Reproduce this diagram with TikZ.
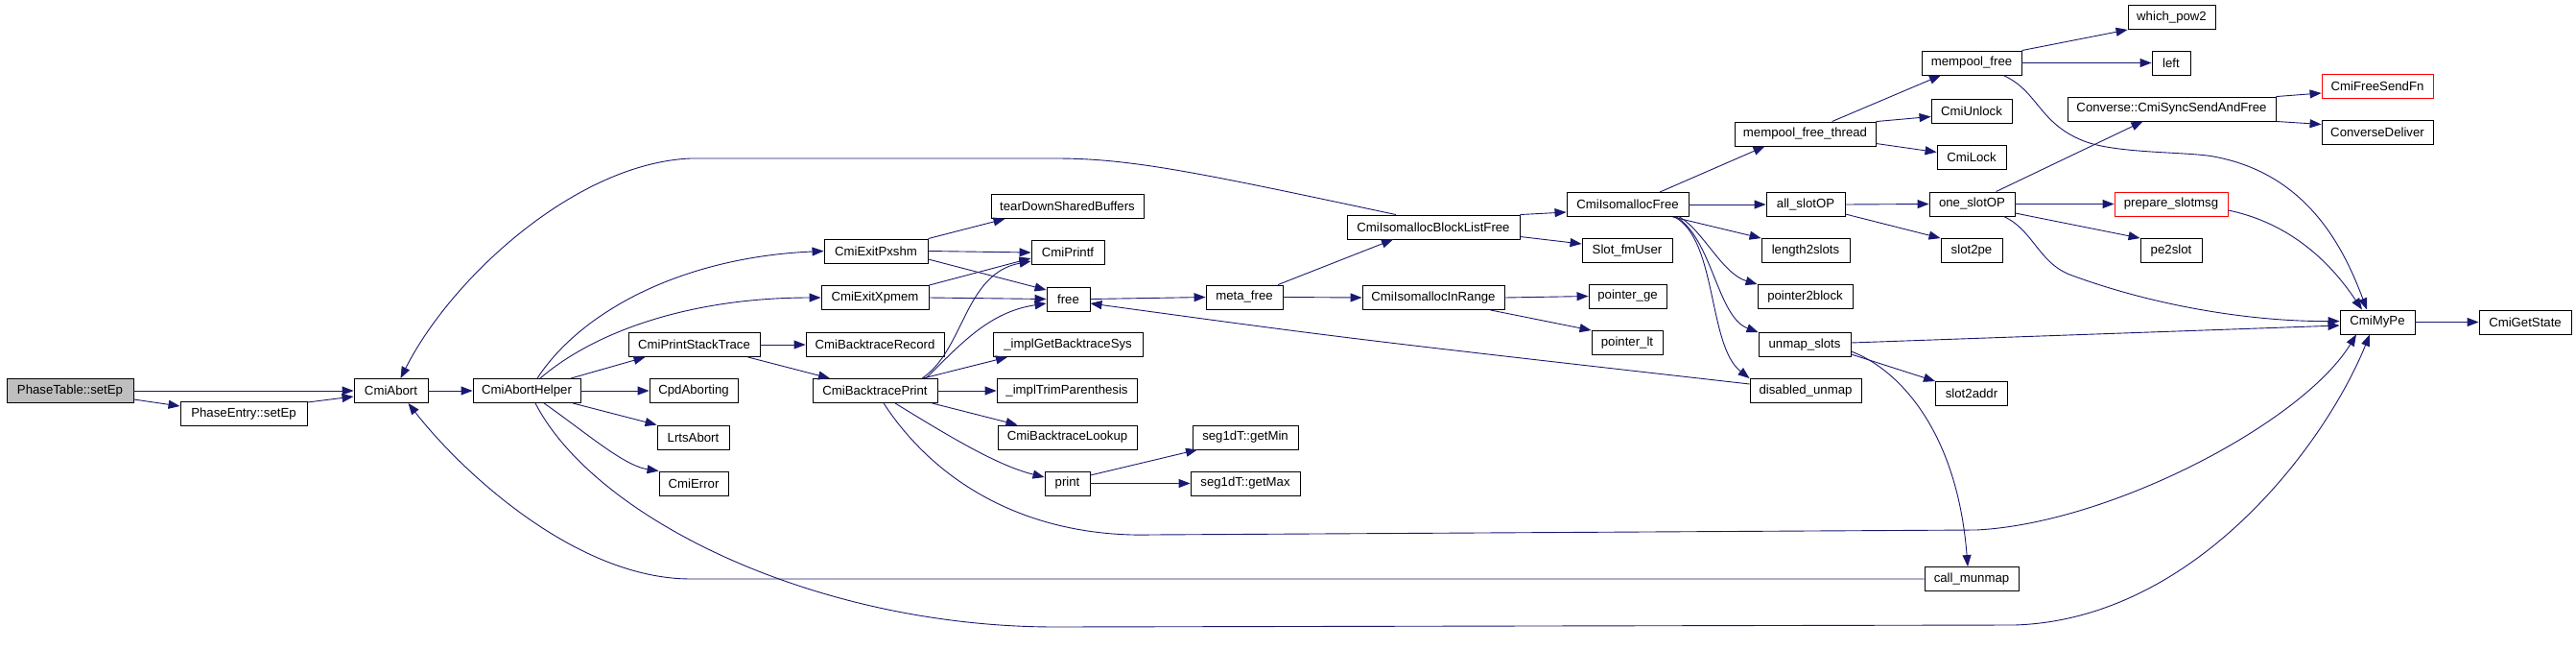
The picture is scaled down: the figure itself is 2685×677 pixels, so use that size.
\documentclass[tikz,border=0pt]{standalone}
\usepackage{fontspec}
\newfontfamily\dfont{Liberation Sans}
\usetikzlibrary{arrows.meta}
\definecolor{edgec}{RGB}{25,25,112}
\definecolor{grayfill}{RGB}{191,191,191}
\begin{document}
\begin{tikzpicture}[x=1pt,y=-1pt,
  nd/.style={draw=black, line width=0.9pt, minimum height=25pt, inner sep=0pt, font=\dfont\fontsize{13.2}{15}\selectfont, anchor=center},
  ndred/.style={nd, draw=red},
  ed/.style={draw=edgec, line width=0.9pt, -{Triangle[length=12pt,width=9pt]}}]
\useasboundingbox (0,0) rectangle (2685,677);
% nodes
\node[nd, fill=grayfill, minimum width=132pt] (pt) at (73,407) {PhaseTable::setEp};
\node[nd, minimum width=132pt] (pe) at (254,431) {PhaseEntry::setEp};
\node[nd, minimum width=77pt] (abort) at (407.5,407) {CmiAbort};
\node[nd, minimum width=112pt] (helper) at (549,407) {CmiAbortHelper};
\node[nd, minimum width=108pt] (pxshm) at (913,261.5) {CmiExitPxshm};
\node[nd, minimum width=112pt] (xpmem) at (912,310) {CmiExitXpmem};
\node[nd, minimum width=137pt] (pst) at (723.5,359) {CmiPrintStackTrace};
\node[nd, minimum width=92pt] (cpd) at (723,407) {CpdAborting};
\node[nd, minimum width=75pt] (lrts) at (722.5,455.5) {LrtsAbort};
\node[nd, minimum width=72pt] (err) at (723,503.5) {CmiError};
\node[nd, minimum width=159pt] (tear) at (1112.5,215) {tearDownSharedBuffers};
\node[nd, minimum width=76pt] (printf) at (1113,263) {CmiPrintf};
\node[nd, minimum width=45pt] (nfree) at (1113.5,311.5) {free};
\node[nd, minimum width=144pt] (btr) at (912,359) {CmiBacktraceRecord};
\node[nd, minimum width=130pt] (bp) at (912,407) {CmiBacktracePrint};
\node[nd, minimum width=156pt] (igbs) at (1113,359) {\_implGetBacktraceSys};
\node[nd, minimum width=146pt] (itp) at (1112,407) {\_implTrimParenthesis};
\node[nd, minimum width=145pt] (bl) at (1112.5,455.5) {CmiBacktraceLookup};
\node[nd, minimum width=47pt] (nprint) at (1112.5,503.5) {print};
\node[nd, minimum width=110pt] (gmin) at (1298,455.5) {seg1dT::getMin};
\node[nd, minimum width=114pt] (gmax) at (1298,503.5) {seg1dT::getMax};
\node[nd, minimum width=80pt] (mf) at (1297,309.5) {meta\_free};
\node[nd, minimum width=180pt] (blf) at (1494,236.5) {CmiIsomallocBlockListFree};
\node[nd, minimum width=148pt] (inr) at (1494,310) {CmiIsomallocInRange};
\node[nd, minimum width=116pt] (du) at (1882,407) {disabled\_unmap};
\node[nd, minimum width=98pt] (cm) at (2055,603) {call\_munmap};
\node[nd, minimum width=127pt] (isofree) at (1696.5,213) {CmiIsomallocFree};
\node[nd, minimum width=94pt] (sfm) at (1696,261) {Slot\_fmUser};
\node[nd, minimum width=81pt] (pge) at (1696.5,308.5) {pointer\_ge};
\node[nd, minimum width=74pt] (plt) at (1696,357) {pointer\_lt};
\node[nd, minimum width=147pt] (mpft) at (1881.5,139.5) {mempool\_free\_thread};
\node[nd, minimum width=82pt] (aso) at (1882,213) {all\_slotOP};
\node[nd, minimum width=92pt] (l2s) at (1882,261) {length2slots};
\node[nd, minimum width=99pt] (p2b) at (1881.5,309) {pointer2block};
\node[nd, minimum width=96pt] (unmap) at (1881,359) {unmap\_slots};
\node[nd, minimum width=104pt] (mpf) at (2055,65.5) {mempool\_free};
\node[nd, minimum width=84pt] (unlock) at (2055,115.5) {CmiUnlock};
\node[nd, minimum width=72pt] (lock) at (2055,163.5) {CmiLock};
\node[nd, minimum width=89pt] (oso) at (2055.5,212.5) {one\_slotOP};
\node[nd, minimum width=64pt] (s2p) at (2055,261) {slot2pe};
\node[nd, minimum width=75pt] (s2a) at (2055,410) {slot2addr};
\node[nd, minimum width=91pt] (wp2) at (2263.5,18) {which\_pow2};
\node[nd, minimum width=40pt] (nleft) at (2263,65.5) {left};
\node[nd, minimum width=217pt] (conv) at (2263.5,113.5) {Converse::CmiSyncSendAndFree};
\node[ndred, minimum width=118pt] (prep) at (2263,212.5) {prepare\_slotmsg};
\node[nd, minimum width=64pt] (pe2s) at (2263,261) {pe2slot};
\node[ndred, minimum width=116pt] (cfsf) at (2478,89.5) {CmiFreeSendFn};
\node[nd, minimum width=116pt] (cd) at (2478,137.5) {ConverseDeliver};
\node[nd, minimum width=78pt] (mype) at (2478,335.5) {CmiMyPe};
\node[nd, minimum width=96pt] (gs) at (2632,335.5) {CmiGetState};
% edges
\draw[ed] (pt.east) -- (abort.west);
\draw[ed] ([yshift=-9pt]pt.east) -- ([yshift=8pt]pe.west);
\draw[ed] ([yshift=12pt]pe.east) -- ([yshift=-6pt]abort.west);
\draw[ed] (abort.east) -- (helper.west);
\draw[ed] ([xshift=11pt]helper.north) .. controls (605,325) and (710,268) .. (pxshm.west);
\draw[ed] ([xshift=14pt]helper.north) .. controls (620,345) and (720,310) .. (xpmem.west);
\draw[ed] ([xshift=46pt]helper.north) -- ([xshift=-51pt]pst.south);
\draw[ed] (helper.east) -- (cpd.west);
\draw[ed] ([xshift=48pt]helper.south) -- (lrts.north west);
\draw[ed] ([xshift=18pt]helper.south) .. controls (610,450) and (650,485) .. (err.north west);
\draw[ed] ([xshift=9pt]helper.south) .. controls (620,540) and (850,653) .. (1100,653) -- (2100,651) .. controls (2290,645) and (2425,460) .. ([xshift=-8pt]mype.south);
\draw[ed] ([xshift=9pt]bp.south) .. controls (980,510) and (1080,560) .. (1200,557) -- (2060,552) .. controls (2200,545) and (2400,440) .. ([xshift=-22pt]mype.south);
\draw[ed] (pxshm.north east) -- ([xshift=-65pt]tear.south);
\draw[ed] (pxshm.east) -- (printf.west);
\draw[ed] ([yshift=-8.5pt]pxshm.east) -- ([yshift=9.5pt]nfree.west);
\draw[ed] (xpmem.north east) -- ([yshift=-6pt]printf.west);
\draw[ed] (xpmem.east) -- (nfree.west);
\draw[ed] (pst.east) -- (btr.west);
\draw[ed] ([xshift=56pt]pst.south) -- ([xshift=-47pt]bp.north);
\draw[ed] ([xshift=49pt]bp.north) .. controls (1005,365) and (1005,285) .. ([yshift=-9pt]printf.west);
\draw[ed] ([xshift=53pt]bp.north) .. controls (1000,360) and (1030,325) .. ([yshift=-4.5pt]nfree.west);
\draw[ed] ([xshift=50pt]bp.north) -- ([xshift=-63pt]igbs.south);
\draw[ed] (bp.east) -- (itp.west);
\draw[ed] ([xshift=-6pt]bp.south east) -- ([xshift=-52pt]bl.north);
\draw[ed] ([xshift=21pt]bp.south) .. controls (990,455) and (1040,485) .. ([yshift=6.5pt]nprint.west);
\draw[ed] ([yshift=8.5pt]nprint.east) -- ([xshift=-50pt]gmin.south);
\draw[ed] (nprint.east) -- (gmax.west);
\draw[ed] (nfree.east) -- (mf.west);
\draw[ed] ([xshift=35pt]mf.north) -- ([xshift=-42pt]blf.south);
\draw[ed] (mf.east) -- (inr.west);
\draw[ed] ([yshift=7pt]du.west) .. controls (1400,352) .. ([yshift=-4.5pt]nfree.east);
\draw[ed] (blf.north east) -- ([yshift=-8pt]isofree.west);
\draw[ed] ([yshift=-10pt]blf.east) -- ([yshift=7pt]sfm.west);
\draw[ed] ([xshift=-39pt]blf.north) .. controls (1250,180) and (1180,165) .. (1100,165) -- (720,165) .. controls (600,170) and (470,290) .. ([xshift=10pt]abort.north);
\draw[ed] (inr.east) -- (pge.west);
\draw[ed] ([xshift=-15pt]inr.south east) -- (plt.north west);
\draw[ed] ([xshift=33.5pt]isofree.north) -- ([xshift=-42pt]mpft.south);
\draw[ed] (isofree.east) -- (aso.west);
\draw[ed] ([xshift=-17pt]isofree.south east) -- (l2s.north west);
\draw[ed] ([xshift=-10pt]isofree.south east) .. controls (1775,240) and (1795,285) .. (p2b.north west);
\draw[ed] ([xshift=-13pt]isofree.south east) .. controls (1785,250) and (1790,330) .. (unmap.north west);
\draw[ed] ([xshift=-15pt]isofree.south east) .. controls (1790,250) and (1780,360) .. (du.north west);
\draw[ed] ([xshift=28pt]mpft.north) -- ([xshift=-32pt]mpf.south);
\draw[ed] (mpft.north east) -- ([yshift=-6pt]unlock.west);
\draw[ed] ([yshift=-10pt]mpft.east) -- ([yshift=5pt]lock.west);
\draw[ed] (mpf.north east) -- (wp2.south west);
\draw[ed] (mpf.east) -- (nleft.west);
\draw[ed] ([xshift=33pt]mpf.south) .. controls (2125,95) and (2125,130) .. (2175,148) .. controls (2210,160) and (2280,158) .. (2307,163) .. controls (2400,180) and (2440,250) .. ([xshift=-11pt]mype.north);
\draw[ed] (aso.east) -- (oso.west);
\draw[ed] ([yshift=-10pt]aso.east) -- (s2p.north west);
\draw[ed] ([xshift=25pt]oso.north) -- ([xshift=-30pt]conv.south);
\draw[ed] (oso.east) -- (prep.west);
\draw[ed] ([yshift=-9.5pt]oso.east) -- (pe2s.north west);
\draw[ed] ([xshift=33pt]oso.south) .. controls (2120,240) and (2125,275) .. (2160,287) .. controls (2250,320) and (2350,335) .. ([yshift=1pt]mype.west);
\draw[ed] ([yshift=-6.5pt]prep.east) .. controls (2400,235) and (2440,290) .. ([xshift=-16pt]mype.north);
\draw[ed] (conv.north east) -- ([yshift=-7.5pt]cfsf.west);
\draw[ed] (conv.south east) -- ([yshift=8pt]cd.west);
\draw[ed] ([yshift=2pt]unmap.east) -- ([yshift=-3.5pt]mype.west);
\draw[ed] ([yshift=-10pt]unmap.east) -- (s2a.north west);
\draw[ed] ([yshift=-7pt]unmap.east) .. controls (1980,385) and (2040,450) .. ([xshift=-4pt]cm.north);
\draw[ed] (cm.west) -- (720,603) .. controls (600,603) and (480,490) .. ([xshift=18pt]abort.south);
\draw[ed] (mype.east) -- (gs.west);
\end{tikzpicture}
\end{document}
